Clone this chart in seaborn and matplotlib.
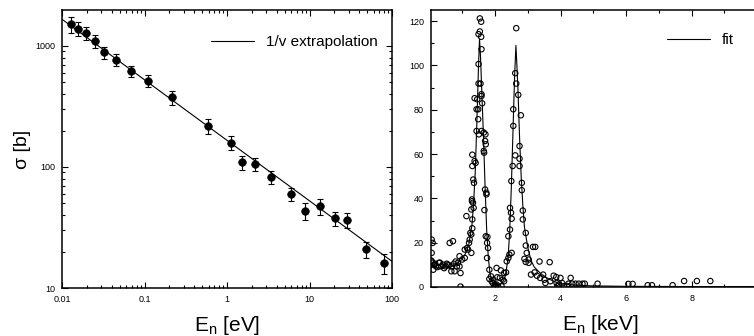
import numpy as np
import pandas as pd
import matplotlib
matplotlib.use("Agg")
import matplotlib.pyplot as plt
import matplotlib.ticker as mticker
import seaborn as sns

# left panel: cross section vs neutron energy (eV), log-log
energy_ev = [0.0127, 0.0156, 0.0195, 0.0249, 0.0326, 0.0455, 0.068, 0.110, 0.214, 0.589,
             1.127, 1.52, 2.18, 3.38, 5.97, 8.9, 13.4, 20.5, 28.2, 48, 80]
sigma_b = [1510, 1390, 1274, 1099, 887, 771, 621, 517, 377, 218,
           159, 109, 106, 82, 59.4, 43.3, 47.3, 37.7, 36.5, 20.9, 16.1]
sigma_err = [230, 180, 160, 130, 100, 85, 65, 60, 50, 30,
             22, 14, 13, 10, 7, 7, 7, 5, 5, 3.3, 3]

# 1/v extrapolation line (straight in log-log), end points
line_ev = [0.01, 100]
line_sigma = [1660, 16.6]

# right panel: measured points (keV)
kev_pts = [0.07, 0.10, 0.07, 0.10, 0.15, 0.12, 0.20, 0.29, 0.36, 0.41,
           0.49, 0.56, 0.67, 0.62, 0.72, 0.67, 0.77, 0.84, 0.87, 0.92,
           0.95, 0.92, 1.00, 1.08, 1.08, 1.15, 1.13, 1.18, 1.21, 1.23,
           1.25, 1.28, 1.28, 1.31, 1.31, 1.28, 1.30, 1.30, 1.33, 1.35,
           1.36, 1.34, 1.31, 1.31, 1.38, 1.41, 1.38, 1.46, 1.44, 1.49,
           1.44, 1.51, 1.49, 1.50, 1.50, 1.50, 1.54, 1.54, 1.58, 1.58,
           1.59, 1.56, 1.59, 1.59, 1.61, 1.59, 1.66, 1.66, 1.67, 1.71,
           1.70, 1.72, 1.70, 1.74, 1.74, 1.68, 1.72, 1.77, 1.76, 1.79,
           1.76, 1.83, 1.83, 1.88, 1.90, 1.95, 1.93, 2.00, 2.05, 2.07,
           2.05, 2.15, 2.18, 2.24, 2.28, 2.28, 2.34, 2.36, 2.41, 2.41,
           2.44, 2.46, 2.46, 2.51, 2.49, 2.51, 2.50, 2.54, 2.56, 2.56,
           2.62, 2.62, 2.65, 2.65, 2.71, 2.75, 2.75, 2.75, 2.79, 2.82,
           2.82, 2.85, 2.85, 2.94, 2.94, 2.90, 2.97, 2.94, 3.03, 3.03,
           3.10, 3.16, 3.23, 3.21, 3.28, 3.36, 3.38, 3.47, 3.51, 3.54,
           3.67, 3.69, 3.79, 3.87, 3.88, 4.00, 3.95, 4.05, 4.31, 4.24,
           4.36, 4.46, 4.56, 4.67, 4.74, 5.13, 6.07, 6.20, 6.66, 6.79,
           7.42, 7.77, 8.16, 8.57,
           0.05, 0.08, 0.18, 0.25, 0.32, 0.45, 0.53, 0.60, 0.75, 0.80,
           0.95, 1.98, 2.02, 2.10, 2.20, 3.90, 4.10, 4.20]
sigma_pts = [21.4, 19.9, 15.4, 10.9, 10.1, 7.8, 9.3, 10.9, 9.3, 10.1,
             9.3, 10.1, 9.3, 19.9, 20.7, 7.1, 7.1, 9.3, 10.9, 9.3,
             6.3, 13.9, 12.4, 13.1, 16.9, 17.6, 32.0, 16.9, 19.9, 21.4,
             24.4, 15.4, 23.7, 26.5, 30.5, 35.0, 39.5, 38.7, 38.0, 35.7,
             47.0, 48.5, 54.6, 59.7, 56.8, 56.0, 85.2, 84.7, 80.2, 80.2,
             70.4, 68.9, 75.7, 91.8, 100.6, 114.1, 115.3, 121.2, 119.7, 112.9,
             107.3, 91.8, 87.0, 86.2, 82.9, 70.4, 69.7, 61.4, 60.6, 68.9,
             65.9, 64.4, 44.0, 42.5, 41.8, 34.7, 22.9, 22.6, 19.9, 17.6,
             13.1, 7.8, 3.6, 4.8, 2.6, 3.3, 1.8, 1.1, 1.1, 4.4,
             8.6, 4.1, 7.5, 3.3, 2.6, 6.3, 6.6, 11.6, 13.1, 22.9,
             14.6, 35.7, 25.9, 15.4, 33.5, 30.8, 47.8, 54.6, 72.7, 80.2,
             59.4, 96.5, 91.8, 116.8, 86.7, 63.6, 57.9, 54.6, 77.5, 47.0,
             43.7, 34.5, 30.5, 24.4, 18.7, 12.7, 15.4, 11.3, 12.4, 10.9,
             5.6, 18.1, 18.1, 6.6, 5.1, 11.5, 4.1, 5.6, 3.3, 1.8,
             11.2, 2.6, 5.1, 4.5, 1.8, 4.1, 1.1, 1.8, 4.1, 1.5,
             1.5, 1.5, 1.5, 1.5, 1.5, 1.5, 1.4, 1.4, 0.8, 0.8,
             0.8, 2.7, 2.7, 2.7,
             12.0, 11.5, 10.5, 9.0, 11.0, 8.5, 10.5, 9.8, 10.5, 11.5,
             0.2, 0.3, 0.5, 0.2, 0.4, 0.3, 0.4, 0.5]

# resonance fit curve
fit_kev = [0.05, 0.3, 0.6, 0.8, 1.0, 1.1, 1.2, 1.3, 1.35, 1.4,
           1.45, 1.5, 1.53, 1.56, 1.6, 1.65, 1.7, 1.75, 1.8, 1.85,
           1.9, 2.0, 2.1, 2.2, 2.3, 2.35, 2.4, 2.45, 2.5, 2.55,
           2.6, 2.64, 2.67, 2.7, 2.75, 2.8, 2.85, 2.9, 3.0, 3.1,
           3.2, 3.4, 3.6, 3.8, 4.0, 4.5, 5.0, 6.0, 8.0, 10.5]
fit_sigma = [9.5, 8.5, 8.8, 10, 12.5, 15, 19, 28, 38, 52,
             75, 100, 112, 104, 88, 68, 45, 25, 13, 6,
             3, 1, 0.8, 1.5, 4, 8, 13, 25, 45, 70,
             95, 109, 100, 90, 68, 50, 37, 27, 18, 12,
             9, 6, 4, 2.5, 1.5, 0.8, 0.5, 0.3, 0.2, 0.2]

sns.set_style("ticks")
plt.rcParams['font.family'] = ['Liberation Sans', 'DejaVu Sans']
plt.rcParams['mathtext.default'] = 'regular'
plt.rcParams['axes.linewidth'] = 1.1
for k in ('text.color', 'axes.labelcolor', 'xtick.color', 'ytick.color', 'axes.edgecolor'):
    plt.rcParams[k] = 'black'

left = pd.DataFrame({"E": energy_ev, "sigma": sigma_b, "err": sigma_err})
line = pd.DataFrame({"E": line_ev, "sigma": line_sigma})
pts = pd.DataFrame({"E": kev_pts, "sigma": sigma_pts})
fit = pd.DataFrame({"E": fit_kev, "sigma": fit_sigma})

fig = plt.figure(figsize=(7.54, 3.36), dpi=100)
ax1 = fig.add_axes([62/754, 48/336, 330/754, 278/336])
ax2 = fig.add_axes([431/754, 49/336, 339/754, 277/336])

# ---- left panel
ax1.set_xscale("log")
ax1.set_yscale("log")
sns.lineplot(data=line, x="E", y="sigma", ax=ax1, color="black", lw=0.8,
             label="1/v extrapolation")
ax1.errorbar(left["E"], left["sigma"], yerr=left["err"], fmt="none",
             ecolor="black", elinewidth=0.8, capsize=2.5, capthick=0.8)
sns.scatterplot(data=left, x="E", y="sigma", ax=ax1, color="black", s=30,
                edgecolor="black", linewidth=0.5, zorder=3)
ax1.set_xlim(0.01, 100)
ax1.set_ylim(10, 1980)
ax1.xaxis.set_major_formatter(mticker.FuncFormatter(lambda v, _: f"{v:g}"))
ax1.yaxis.set_major_formatter(mticker.FuncFormatter(lambda v, _: f"{v:g}"))
ax1.xaxis.set_minor_formatter(mticker.NullFormatter())
ax1.yaxis.set_minor_formatter(mticker.NullFormatter())
ax1.set_xlabel("E$_n$ [eV]", fontsize=15, labelpad=7)
ax1.set_ylabel("σ [b]", fontsize=14, labelpad=3)
ax1.legend(loc="upper right", frameon=False, fontsize=11, handlelength=2.8,
           bbox_to_anchor=(1.0, 0.96))

# ---- right panel
sns.scatterplot(data=pts, x="E", y="sigma", ax=ax2, marker="o", s=15,
                facecolor="none", edgecolor="black", linewidth=0.8, zorder=3)
sns.lineplot(data=fit, x="E", y="sigma", ax=ax2, color="black", lw=0.8,
             label="fit", sort=False)
ax2.set_xlim(0.05, 10.39)
ax2.set_ylim(0, 125)
ax2.xaxis.set_major_locator(mticker.FixedLocator([2, 4, 6, 8]))
ax2.xaxis.set_minor_locator(mticker.MultipleLocator(1))
ax2.yaxis.set_major_locator(mticker.MultipleLocator(20))
ax2.yaxis.set_minor_locator(mticker.MultipleLocator(10))
ax2.set_xlabel("E$_n$ [keV]", fontsize=15, labelpad=7)
ax2.set_ylabel("")
leg = ax2.legend(loc="upper left", frameon=False, fontsize=11, handlelength=2.8,
                 bbox_to_anchor=(0.655, 0.965))

for ax in (ax1, ax2):
    ax.tick_params(which="both", direction="in", top=True, right=True,
                   labelsize=6.5, width=0.8, color="black", labelcolor="black")
    ax.tick_params(which="major", length=4.5, pad=5)
    ax.tick_params(which="minor", length=2.5)
    for sp in ax.spines.values():
        sp.set_visible(True)
        sp.set_color("black")

fig.savefig("out.png", dpi=100)
